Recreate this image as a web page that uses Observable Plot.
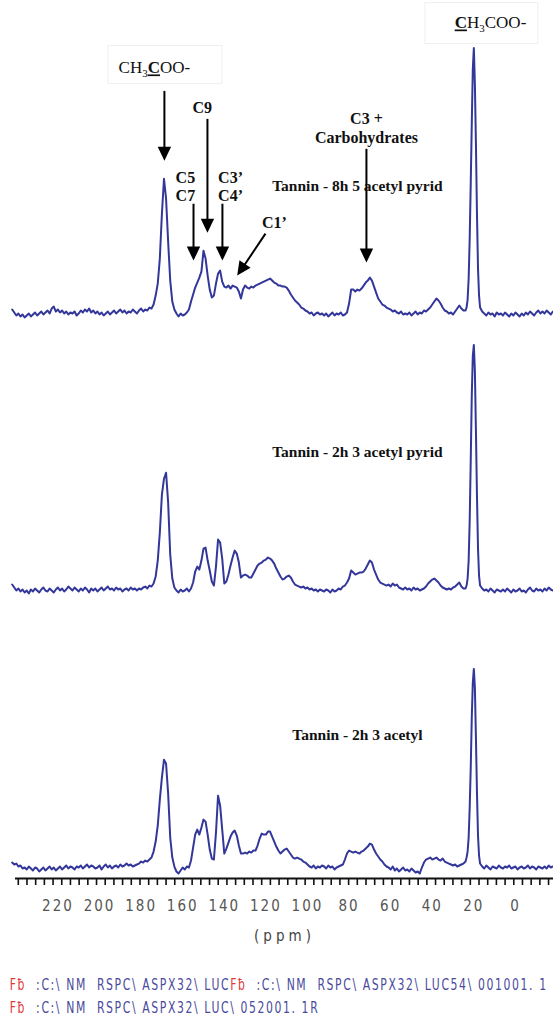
<!DOCTYPE html>
<html><head><meta charset="utf-8">
<script src="https://cdn.jsdelivr.net/npm/d3@7"></script>
<script src="https://cdn.jsdelivr.net/npm/@observablehq/plot@0.6"></script>
<style>
html,body{margin:0;padding:0;background:#fff;}
#chart svg{display:block;overflow:visible;}
g[aria-label^="x-axis"] text{font-family:"Liberation Sans Narrow","DejaVu Sans Condensed","DejaVu Sans",sans-serif;font-stretch:condensed;font-size:15px;letter-spacing:2px;fill:#555;}
.footer{font-family:"Liberation Sans Narrow","DejaVu Sans Condensed","DejaVu Sans",sans-serif;font-stretch:condensed;font-size:15px;letter-spacing:2px;color:#4a4a9c;white-space:pre;line-height:23px;padding-left:12px;transform-origin:0 0;width:max-content;}
.footer .r{color:#e0383a;}
</style></head><body>
<div id="chart"></div>
<div class="footer" id="footer"><div id="fl1"><span class="r">Fƀ</span>  :C:\ NM  RSPC\ ASPX32\ LUC<span class="r">Fƀ</span>  :C:\ NM  RSPC\ ASPX32\ LUC54\ 001001. 1</div><div><span class="r">Fƀ</span>  :C:\ NM  RSPC\ ASPX32\ LUC\ 052001. 1R</div></div>
<script>
// chemical shift grid (ppm)
const ppm = [
242,241,240,239,238,237,236,235,234,233,
232,231,230,229,228,227,226,225,224,223,
222,221,220,219,218,217,216,215,214,213,
212,211,210,209,208,207,206,205,204,203,
202,201,200,199,198,197,196,195,194,193,
192,191,190,189,188,187,186,185,184,183,
182,181,180,179,178,177,176,175,174,173,
172,171,170,169,168,167,166,165,164,163,
162,161,160,159,158,157,156,155,154,153,
152,151,150,149,148,147,146,145,144,143,
142,141,140,139,138,137,136,135,134,133,
132,131,130,129,128,127,126,125,124,123,
122,121,120,119,118,117,116,115,114,113,
112,111,110,109,108,107,106,105,104,103,
102,101,100,99,98,97,96,95,94,93,
92,91,90,89,88,87,86,85,84,83,
82,81,80,79,78,77,76,75,74,73,
72,71,70,69,68,67,66,65,64,63,
62,61,60,59,58,57,56,55,54,53,
52,51,50,49,48,47,46,45,44,43,
42,41,40,39,38,37,36,35,34,33,
32,31,30,29,28,27,26,25,
24,23.5,23,22.5,22,21.5,21,20.5,20,19.5,19,18.5,18,17.5,17,
16,15,14,13,12,11,10,9,8,7,
6,5,4,3,2,1,0,-1,-2,-3,
-4,-5,-6,-7,-8,-9,-10,-11,-12,-13,
-14,-15,-16,-17,-18
];

// Tannin - 8h 5 acetyl pyrid (intensity, arbitrary units)
const spectrum8h5Pyrid = [
4,1,-2,0,-3,-1,-4,-2,0,-3,
-1,1,-2,0,2,-1,1,3,0,5,
7,2,4,1,3,0,2,-1,1,0,
2,-2,0,3,1,4,2,5,1,3,
0,2,-1,1,-2,0,2,-1,1,3,
0,2,4,1,3,0,2,1,4,2,
0,3,5,2,4,3,6,5,9,18,
30,55,100,135,115,72,33,12,4,0,
-3,0,-2,-1,1,4,12,19,26,31,
36,42,63,55,38,24,16,18,30,40,
43,32,27,26,28,25,28,27,26,22,
15,24,28,26,25,27,26,28,29,30,
31,32,33,34,35,33,31,30,28,28,
27,27,26,23,19,16,13,11,9,6,
5,3,2,0,1,-2,0,1,-1,0,
-2,0,-3,-1,1,-2,0,-1,1,-2,
-1,1,10,24,24,22,24,23,25,28,
31,33,36,33,27,21,15,12,9,8,
6,5,4,2,3,1,0,2,-1,0,
-1,1,-2,0,2,-1,1,0,3,2,
4,6,9,12,15,13,10,6,3,2,
0,1,-1,2,5,8,5,3,
3,6,14,35,75,130,190,245,266,230,170,100,45,18,6,
2,0,-2,1,-1,0,-3,1,-1,0,
-2,1,-1,-3,0,-2,1,-1,-3,0,
-2,1,-1,2,0,-2,1,3,0,2,
0,3,1,-1,2
];

// Tannin - 2h 3 acetyl pyrid
const spectrum2h3Pyrid = [
6,3,0,2,-1,1,-2,0,-3,1,
-1,2,0,-2,1,3,0,-1,2,0,
-2,1,3,0,2,-1,1,4,2,0,
3,1,-1,2,0,3,1,-2,2,0,
2,-1,1,3,0,2,4,1,2,0,
3,1,2,-1,1,2,0,3,1,2,
0,2,1,3,4,2,5,4,7,14,
30,58,96,112,118,88,36,12,3,0,
-2,1,-1,0,2,-1,2,8,19,24,
21,30,42,43,30,20,9,5,24,51,
48,32,7,9,16,25,33,40,37,28,
13,15,16,15,13,13,17,21,25,27,
28,30,31,33,32,30,27,22,18,14,
11,12,14,15,13,9,6,5,4,3,
4,2,3,1,2,0,1,-1,1,0,
-1,1,0,-2,1,-1,0,2,1,4,
5,8,12,20,18,16,17,18,18,19,
22,26,30,28,21,16,11,8,7,6,
5,6,4,7,5,6,3,2,1,3,
1,2,0,3,1,2,0,1,2,4,
7,9,11,12,10,8,5,3,2,1,
2,1,3,4,6,8,4,2,
2,5,12,30,70,130,195,235,246,220,160,95,42,15,5,
2,0,1,-1,2,0,-2,1,0,-1,
1,-1,2,0,-2,1,-1,0,2,-1,
0,-2,1,3,0,-1,2,0,1,-1,
2,0,3,1,0
];

// Tannin - 2h 3 acetyl
const spectrum2h3 = [
5,3,4,1,2,-1,0,-2,1,-1,
-3,0,-1,-4,-2,0,-3,-1,1,-2,
0,-3,-1,1,-2,0,2,-1,1,0,
-2,1,0,2,-1,1,3,0,2,1,
-1,0,2,-2,1,3,0,2,-1,1,
2,0,3,1,2,4,2,3,1,2,
3,4,6,5,7,6,8,10,16,26,
42,68,90,108,104,74,30,10,1,-4,
-6,-3,0,-2,1,0,7,20,33,38,
33,40,48,46,33,18,9,8,35,72,
62,38,14,19,25,31,35,37,32,22,
14,14,15,14,16,15,17,17,22,29,
34,33,33,36,36,31,26,21,17,14,
16,18,19,16,13,10,9,10,9,8,
6,5,3,1,0,2,-1,1,0,2,
1,-1,2,0,1,-2,0,1,2,3,
8,14,17,16,15,16,15,14,16,17,
19,21,24,23,18,14,11,8,6,3,
1,0,-2,1,-3,-1,-4,-2,0,-3,
-2,-4,-1,-3,-5,-4,-6,0,5,8,
9,10,8,9,10,8,7,9,6,5,
4,3,2,3,1,2,3,4,
6,10,16,30,60,100,150,185,199,180,130,75,32,12,4,
1,-1,2,0,-2,1,0,-1,2,0,
-1,1,0,2,-1,0,1,-2,0,1,
-1,0,2,-1,1,0,-2,1,0,-1,
1,-1,2,0,1
];

const sampleNames = ["Tannin - 8h 5 acetyl pyrid", "Tannin - 2h 3 acetyl pyrid", "Tannin - 2h 3 acetyl"];
const tickLabels = [220, 200, 180, 160, 140, 120, 100, 80, 60, 40, 20, 0];

// annotations (data coordinates: ppm, intensity)
const sampleLabelPos = [[76, 128], [76, 138.5], [76, 133]];
const peakLabels = [
  {text: "C9", ppm: 150.6, I: 206},
  {text: "C5", ppm: 158.7, I: 136},
  {text: "C7", ppm: 158.7, I: 118},
  {text: "C3’", ppm: 137.0, I: 136},
  {text: "C4’", ppm: 137.0, I: 118},
  {text: "C1’", ppm: 115.9, I: 91},
  {text: "C3 +", ppm: 71.65, I: 195},
  {text: "Carbohydrates", ppm: 71.65, I: 176}
];
const downArrows = [
  {ppm: 168.8, from: 223, tip: 153},
  {ppm: 148.1, from: 195, tip: 81},
  {ppm: 154.8, from: 110, tip: 53},
  {ppm: 140.9, from: 110, tip: 53},
  {ppm: 71.65, from: 165, tip: 51}
];
const c1Arrow = {x1: 120.2, y1: 80, x2: 133.8, y2: 38};
const acetateLabels = [
  {id: "carbonyl", ppm: 173.6, I: 246, box: [195.7, 140.9, 230, 268]},
  {id: "methyl", ppm: 12.0, I: 291, box: [43.3, -11.0, 270, 311]}
];

const rows = [];
[spectrum8h5Pyrid, spectrum2h3Pyrid, spectrum2h3].forEach((s, i) => {
  ppm.forEach((p, j) => { if (s[j] !== undefined) rows.push({sample: sampleNames[i], ppm: p, I: s[j]}); });
});

const topF = () => sampleNames[0];
const botF = () => sampleNames[2];

const headDown = {draw(ctx) { ctx.moveTo(0, 0); ctx.lineTo(-6.7, -14); ctx.lineTo(6.7, -14); ctx.closePath(); }};
function rotatedHead(deg) {
  const a = deg * Math.PI / 180, c = Math.cos(a), s = Math.sin(a);
  const pts = [[0, 0], [-6.7, -14], [6.7, -14]].map(([x, y]) => [x * c - y * s, x * s + y * c]);
  return {draw(ctx) { ctx.moveTo(pts[0][0], pts[0][1]); ctx.lineTo(pts[1][0], pts[1][1]); ctx.lineTo(pts[2][0], pts[2][1]); ctx.closePath(); }};
}

const minorTicks = d3.range(-4, 58).map(k => 0.8 + k * 4.18);
const serif = "Liberation Serif, Times New Roman, serif";

const chart = Plot.plot({
  width: 553,
  height: 974,
  marginTop: 46.5,
  marginBottom: 95,
  marginLeft: 15,
  marginRight: 0,
  x: {domain: [240.4, -18.3], ticks: tickLabels, tickFormat: d => String(d), tickSize: 0, tickPadding: 22, label: null},
  y: {domain: [-11, 266.5], axis: null},
  fy: {domain: sampleNames, padding: 0, axis: null},
  marks: [
    Plot.rect(acetateLabels, {x1: d => d.box[0], x2: d => d.box[1], y1: d => d.box[2], y2: d => d.box[3], fy: topF, fill: "white", stroke: "#efefef", strokeWidth: 1}),
    Plot.line(rows, {x: "ppm", y: "I", z: "sample", fy: "sample", stroke: "#34379a", strokeWidth: 2}),
    Plot.ruleY([-11], {y: d => d, fy: botF, stroke: "#111", strokeWidth: 2}),
    Plot.ruleX(minorTicks, {x: d => d, y1: -11, y2: -18, fy: botF, stroke: "#111", strokeWidth: 1.6}),
    Plot.text(["(ppm)"], {text: d => d, frameAnchor: "bottom", dy: 62, fy: botF, fontSize: 15, fill: "#444"}),
    Plot.link(downArrows, {x1: "ppm", x2: "ppm", y1: "from", y2: d => d.tip + 8, fy: topF, stroke: "#000", strokeWidth: 2}),
    Plot.dot(downArrows, {x: "ppm", y: "tip", fy: topF, symbol: headDown, r: 5, fill: "#000"}),
    Plot.link([c1Arrow], {x1: "x1", y1: "y1", x2: d => d.x2 - 2.2, y2: d => d.y2 + 6.6, fy: topF, stroke: "#000", strokeWidth: 2}),
    Plot.dot([c1Arrow], {x: "x2", y: "y2", fy: topF, symbol: rotatedHead(34), r: 5, fill: "#000"}),
    Plot.text(peakLabels, {x: "ppm", y: "I", text: "text", fy: topF, fontFamily: serif, fontWeight: "bold", fontSize: 16, fill: "#111"}),
    Plot.text(sampleNames, {x: (d, i) => sampleLabelPos[i][0], y: (d, i) => sampleLabelPos[i][1], text: d => d, fy: d => d, fontFamily: serif, fontWeight: "bold", fontSize: 15.5, fill: "#111"}),
    Plot.text([acetateLabels[0]], {x: "ppm", y: "I", text: () => "CH3COO-", fy: topF, fontFamily: serif, fontSize: 17, fill: "#111"}),
    Plot.text([acetateLabels[1]], {x: "ppm", y: "I", text: () => "CH3COO-", fy: topF, fontFamily: serif, fontSize: 17, fill: "#111"})
  ]
});
document.getElementById("chart").appendChild(chart);

// rich text: subscript 3 and the bold, underlined observed carbon
const NS = "http://www.w3.org/2000/svg";
function rich(t, parts) {
  t.textContent = "";
  let shifted = false;
  parts.forEach(([str, kind]) => {
    const ts = document.createElementNS(NS, "tspan");
    ts.textContent = str;
    if (kind === "sub") { ts.setAttribute("font-size", "11"); ts.setAttribute("dy", "4"); shifted = true; }
    else if (shifted) { ts.setAttribute("dy", "-4"); shifted = false; }
    if (kind === "em") { ts.setAttribute("font-weight", "bold"); ts.setAttribute("text-decoration", "underline"); }
    t.appendChild(ts);
  });
}
const allText = Array.from(chart.querySelectorAll("text"));
const acetTexts = allText.filter(t => t.textContent === "CH3COO-");
if (acetTexts[0]) rich(acetTexts[0], [["CH", ""], ["3", "sub"], ["C", "em"], ["OO-", ""]]);
if (acetTexts[1]) rich(acetTexts[1], [["C", "em"], ["H", ""], ["3", "sub"], ["COO-", ""]]);
allText.filter(t => t.textContent === "(ppm)").forEach(t => {
  t.style.letterSpacing = "4px";
  t.style.fontFamily = '"Liberation Sans Narrow","DejaVu Sans Condensed","DejaVu Sans",sans-serif';
  t.style.fontStretch = "condensed";
});

// fit the instrument file-path footer to the page width (condensed look)
const footer = document.getElementById("footer");
const fl1 = document.getElementById("fl1");
const natural = fl1.getBoundingClientRect().width;
const s = Math.min(1, 538 / natural);
footer.style.transform = `scaleX(${s})`;
</script></body></html>
